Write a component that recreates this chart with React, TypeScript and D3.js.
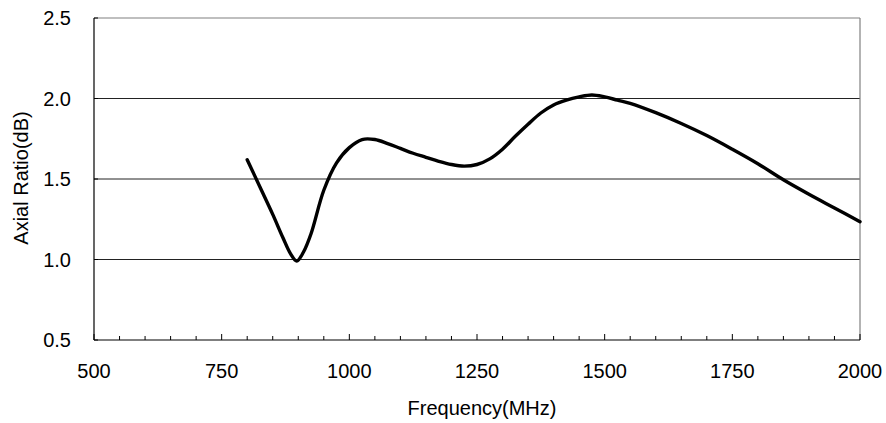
import React from "react";
import * as d3 from "d3";

const freqs = [800, 825, 850, 870, 885, 897, 910, 925, 950, 975, 1000, 1025, 1050, 1075, 1100, 1125, 1150, 1175, 1200, 1225, 1250, 1275, 1300, 1325, 1350, 1375, 1400, 1425, 1450, 1475, 1500, 1525, 1550, 1600, 1650, 1700, 1750, 1800, 1850, 1900, 1950, 2000];
const axialRatio = [1.62, 1.45, 1.28, 1.135, 1.035, 0.99, 1.045, 1.16, 1.43, 1.6, 1.695, 1.745, 1.745, 1.72, 1.69, 1.66, 1.635, 1.61, 1.59, 1.58, 1.59, 1.625, 1.685, 1.765, 1.84, 1.91, 1.96, 1.99, 2.01, 2.022, 2.01, 1.99, 1.97, 1.912, 1.845, 1.77, 1.685, 1.595, 1.495, 1.405, 1.32, 1.235];
const xTicks = [500, 750, 1000, 1250, 1500, 1750, 2000];
const xMinorTicks = d3.range(500, 2001, 50);
const yTicks = [0.5, 1.0, 1.5, 2.0, 2.5];
const gridValues = [1.0, 1.5, 2.0];

export default function App() {
  const W = 886, H = 423;
  const L = 94, R = 860, T = 18, B = 340;
  const x = d3.scaleLinear().domain([500, 2000]).range([L, R]);
  const y = d3.scaleLinear().domain([0.5, 2.5]).range([B, T]);
  const data = freqs.map((f, i) => [f, axialRatio[i]] as [number, number]);
  const line = d3.line<[number, number]>().x(d => x(d[0])).y(d => y(d[1])).curve(d3.curveCatmullRom.alpha(0.5));
  const font = "'Liberation Sans', Arial, sans-serif";
  return (
    <svg width={W} height={H} style={{ position: "absolute", left: 0, top: 0, background: "#fff" }} fontFamily={font}>
      {gridValues.map(v => (
        <line key={v} x1={L} x2={R} y1={y(v)} y2={y(v)} stroke="#222" strokeWidth={1} />
      ))}
      <line x1={L} x2={R} y1={T} y2={T} stroke="#808080" strokeWidth={1.2} />
      <line x1={R} x2={R} y1={T} y2={B} stroke="#808080" strokeWidth={1.2} />
      <line x1={L} x2={L} y1={T} y2={B} stroke="#000" strokeWidth={1.2} />
      <line x1={L} x2={R} y1={B} y2={B} stroke="#000" strokeWidth={1.2} />
      {xMinorTicks.map(t => (
        <line key={t} x1={x(t)} x2={x(t)} y1={B} y2={B - (xTicks.includes(t) ? 6 : 4)} stroke="#000" strokeWidth={1} />
      ))}
      {yTicks.map(t => (
        <line key={t} x1={L} x2={L + 4} y1={y(t)} y2={y(t)} stroke="#000" strokeWidth={1} />
      ))}
      <path d={line(data) || ""} fill="none" stroke="#000" strokeWidth={3.4} strokeLinejoin="round" strokeLinecap="round" />
      {yTicks.map(t => (
        <text key={t} x={71} y={y(t)} dy="0.35em" textAnchor="end" fontSize={20} fill="#000">{t.toFixed(1)}</text>
      ))}
      {xTicks.map(t => (
        <text key={t} x={x(t)} y={378} textAnchor="middle" fontSize={20} fill="#000">{t}</text>
      ))}
      <text x={482} y={415} textAnchor="middle" fontSize={20} fill="#000">Frequency(MHz)</text>
      <text transform={`translate(27.5,178) rotate(-90)`} textAnchor="middle" fontSize={20} fill="#000">Axial Ratio(dB)</text>
    </svg>
  );
}
